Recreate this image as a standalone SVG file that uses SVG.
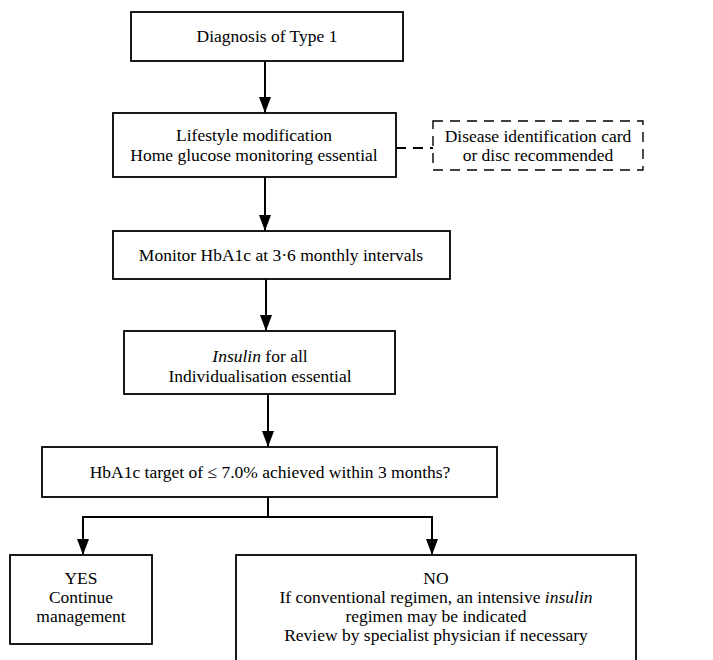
<svg xmlns="http://www.w3.org/2000/svg" width="713" height="660" viewBox="0 0 713 660">
  <style>
    .box { fill: #ffffff; stroke: #000000; stroke-width: 1.8; }
    .dash { fill: #ffffff; stroke: #000000; stroke-width: 1.4; stroke-dasharray: 10 7; }
    .lbl { font-family: "Liberation Serif", "Times New Roman", serif; font-size: 17.5px; fill: #000000; text-anchor: middle; }
    .edge { fill: none; stroke: #000000; stroke-width: 2; }
    .edge-dash { fill: none; stroke: #000000; stroke-width: 1.8; stroke-dasharray: 10 7; }
  </style>
  <defs>
    <marker id="arrow" viewBox="0 0 16 12" refX="16" refY="6" markerWidth="16" markerHeight="12" markerUnits="userSpaceOnUse" orient="auto">
      <path d="M0,0 L16,6 L0,12 Z" fill="#000000"/>
    </marker>
  </defs>
  <rect width="713" height="660" fill="#ffffff"/>

  <!-- flow lines between the boxes -->
  <g id="connectors">
    <line class="edge" x1="265" y1="61" x2="265" y2="113" marker-end="url(#arrow)"/>
    <line class="edge-dash" x1="396" y1="148" x2="433" y2="148"/>
    <line class="edge" x1="265" y1="177" x2="265" y2="231" marker-end="url(#arrow)"/>
    <line class="edge" x1="266" y1="279" x2="266" y2="331" marker-end="url(#arrow)"/>
    <line class="edge" x1="268" y1="394" x2="268" y2="447" marker-end="url(#arrow)"/>
    <polyline class="edge" points="268,497 268,517"/>
    <polyline class="edge" points="83,530 83,517 432,517 432,530"/>
    <line class="edge" x1="83" y1="517" x2="83" y2="555" marker-end="url(#arrow)"/>
    <line class="edge" x1="432" y1="517" x2="432" y2="555" marker-end="url(#arrow)"/>
  </g>

  <g id="diagnosis">
    <rect class="box" x="131" y="12" width="272" height="49"/>
    <text class="lbl" x="267" y="42">Diagnosis of Type 1</text>
  </g>

  <g id="lifestyle">
    <rect class="box" x="113" y="113" width="283" height="64"/>
    <text class="lbl" x="254" y="141">Lifestyle modification</text>
    <text class="lbl" x="254" y="161">Home glucose monitoring essential</text>
  </g>

  <g id="id-card">
    <rect class="dash" x="433" y="121" width="210" height="49"/>
    <text class="lbl" x="538" y="142">Disease identification card</text>
    <text class="lbl" x="538" y="161">or disc recommended</text>
  </g>

  <g id="monitor">
    <rect class="box" x="113" y="231" width="337" height="48"/>
    <text class="lbl" x="281" y="261">Monitor HbA1c at 3·6 monthly intervals</text>
  </g>

  <g id="insulin">
    <rect class="box" x="124" y="331" width="271" height="63"/>
    <text class="lbl" x="260" y="362"><tspan font-style="italic">Insulin</tspan> for all</text>
    <text class="lbl" x="260" y="382">Individualisation essential</text>
  </g>

  <g id="target">
    <rect class="box" x="42" y="447" width="455" height="50"/>
    <text class="lbl" x="270" y="478">HbA1c target of ≤ 7.0% achieved within 3 months?</text>
  </g>

  <g id="yes">
    <rect class="box" x="10" y="555" width="142" height="89"/>
    <text class="lbl" x="81" y="584">YES</text>
    <text class="lbl" x="81" y="603">Continue</text>
    <text class="lbl" x="81" y="622">management</text>
  </g>

  <g id="no">
    <rect class="box" x="236" y="555" width="400" height="110"/>
    <text class="lbl" x="436" y="584">NO</text>
    <text class="lbl" x="436" y="603">If conventional regimen, an intensive <tspan font-style="italic">insulin</tspan></text>
    <text class="lbl" x="436" y="622">regimen may be indicated</text>
    <text class="lbl" x="436" y="641">Review by specialist physician if necessary</text>
  </g>
</svg>
